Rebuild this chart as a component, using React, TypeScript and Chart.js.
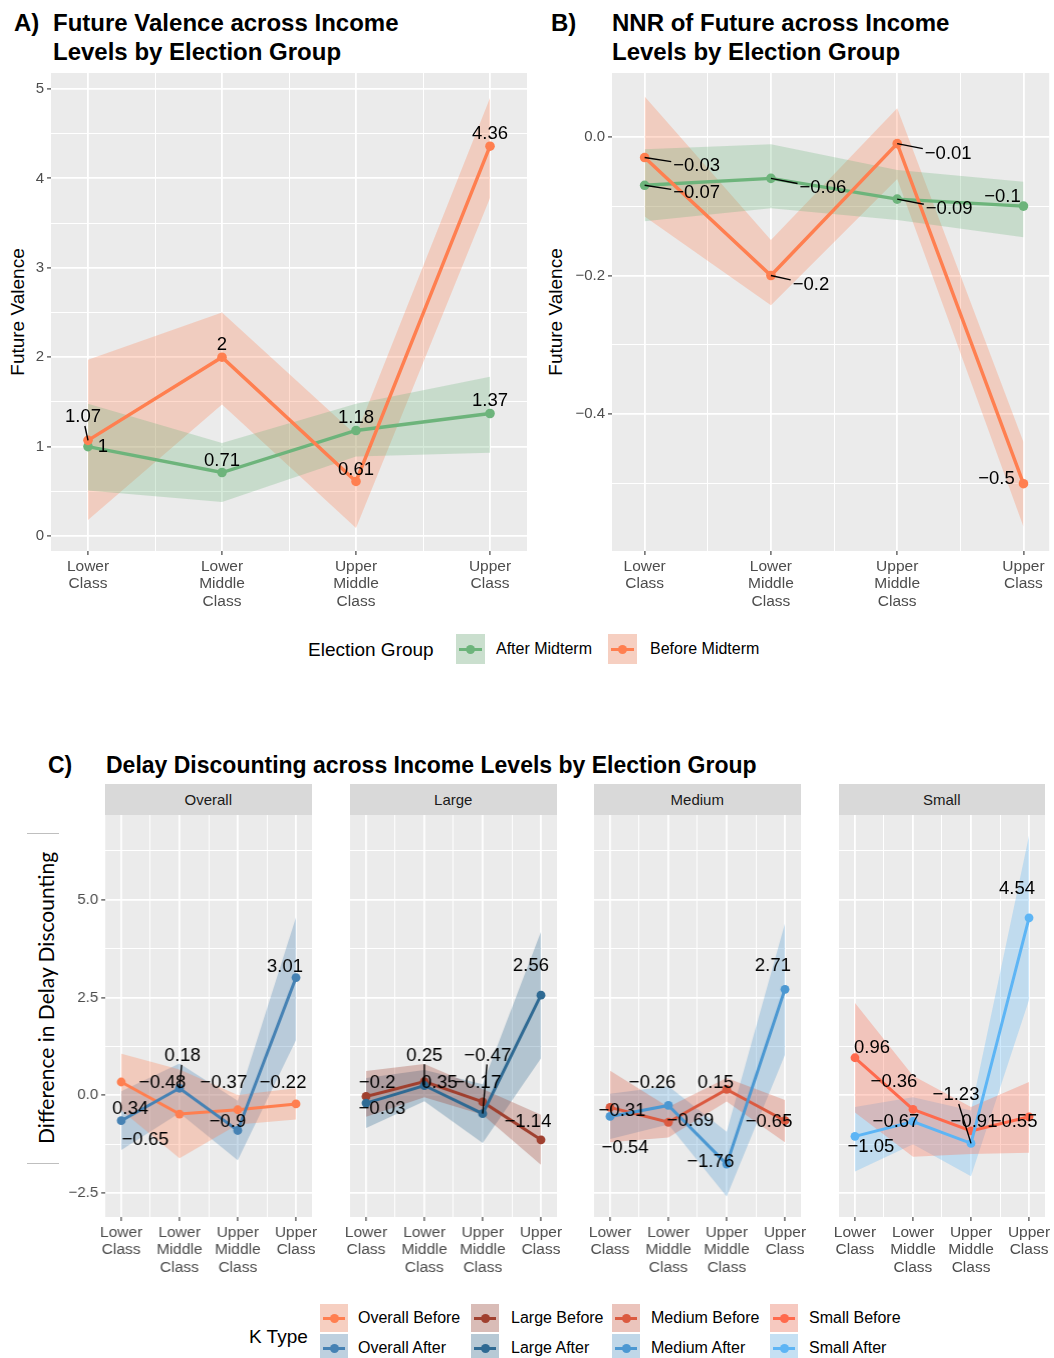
import React, { useEffect, useRef } from "react";
import { Chart, registerables } from "chart.js";

Chart.register(...registerables);

const FONT = '"Liberation Sans", Arial, Helvetica, sans-serif';

// ---------------- shared categories ----------------
const incomeLevels = ["Lower Class", "Lower Middle Class", "Upper Middle Class", "Upper Class"];
const electionGroups = ["After Midterm", "Before Midterm"];

// ---------------- Panel A: Future Valence ----------------
const aAfterMean = [1, 0.71, 1.18, 1.37];
const aAfterLow = [0.51, 0.38, 0.89, 0.93];
const aAfterHigh = [1.48, 1.04, 1.48, 1.78];
const aBeforeMean = [1.07, 2, 0.61, 4.36];
const aBeforeLow = [0.18, 1.47, 0.09, 3.78];
const aBeforeHigh = [1.97, 2.5, 1.13, 4.9];
const aYTicks = [0, 1, 2, 3, 4, 5];
const aYMinor = [0.5, 1.5, 2.5, 3.5, 4.5];

// ---------------- Panel B: NNR of Future ----------------
const bAfterMean = [-0.07, -0.06, -0.09, -0.1];
const bAfterLow = [-0.122, -0.103, -0.12, -0.145];
const bAfterHigh = [-0.018, -0.011, -0.048, -0.065];
const bBeforeMean = [-0.03, -0.2, -0.01, -0.5];
const bBeforeLow = [-0.115, -0.243, -0.061, -0.562];
const bBeforeHigh = [0.058, -0.149, 0.041, -0.44];
const bYTicks = [-0.4, -0.2, 0];
const bYMinor = [-0.5, -0.3, -0.1];

// ---------------- Panel C: Delay Discounting ----------------
const kFacets = ["Overall", "Large", "Medium", "Small"];
const cYTicks = [-2.5, 0, 2.5, 5];
const cYMinor = [-1.25, 1.25, 3.75, 6.25];

const overallBeforeMean = [0.34, -0.48, -0.37, -0.22];
const overallBeforeLow = [-0.38, -1.61, -0.75, -0.62];
const overallBeforeHigh = [1.06, 0.66, 0.01, 0.18];
const overallAfterMean = [-0.65, 0.18, -0.9, 3.01];
const overallAfterLow = [-1.4, -0.45, -1.66, 1.41];
const overallAfterHigh = [0.1, 0.81, -0.14, 4.55];

const largeBeforeMean = [-0.03, 0.35, -0.17, -1.14];
const largeBeforeLow = [-0.55, -0.05, -0.5, -1.78];
const largeBeforeHigh = [0.62, 0.8, 0.16, -0.5];
const largeAfterMean = [-0.2, 0.25, -0.47, 2.56];
const largeAfterLow = [-0.84, -0.15, -1.22, 0.94];
const largeAfterHigh = [0.44, 0.65, 0.28, 4.18];

const mediumBeforeMean = [-0.31, -0.69, 0.15, -0.65];
const mediumBeforeLow = [-1.2, -1.08, -0.16, -1.2];
const mediumBeforeHigh = [0.63, -0.3, 0.44, -0.12];
const mediumAfterMean = [-0.54, -0.26, -1.76, 2.71];
const mediumAfterLow = [-1.12, -0.75, -2.59, 1.03];
const mediumAfterHigh = [0.04, 0.23, -0.93, 4.39];

const smallBeforeMean = [0.96, -0.36, -0.91, -0.55];
const smallBeforeLow = [-0.44, -1.57, -1.5, -1.47];
const smallBeforeHigh = [2.36, 0.5, -0.3, 0.34];
const smallAfterMean = [-1.05, -0.67, -1.23, 4.54];
const smallAfterLow = [-1.95, -1.25, -2.07, 2.44];
const smallAfterHigh = [-0.3, -0.05, -0.39, 6.64];

// ---------------- label placement (text offset from point, px; leader flag) ----------------
const aAfterLabelAt = [[15, 0, 0], [0, -12, 0], [0, -13, 0], [0, -13, 0]];
const aBeforeLabelAt = [[-5, -23, 1], [0, -12, 0], [0, -12, 0], [0, -12, 0]];
const bAfterLabelAt = [[52, 8, 1], [52, 10, 1], [52, 10, 1], [-21, -9, 0]];
const bBeforeLabelAt = [[52, 8, 1], [40, 9, 1], [51, 10, 1], [-27, -5, 0]];
const overallBeforeLabelAt = [[9, 27, 0], [-17, -31, 0], [-14, -27, 0], [-13, -21, 0]];
const overallAfterLabelAt = [[24, 19, 0], [3, -32, 1], [-10, -9, 0], [-11, -11, 0]];
const largeBeforeLabelAt = [[16, 12, 0], [15, 1, 0], [-5, -19, 0], [-13, -18, 0]];
const largeAfterLabelAt = [[11, -20, 0], [0, -30, 1], [5, -58, 1], [-10, -29, 0]];
const mediumBeforeLabelAt = [[12, 3, 0], [22, -1, 0], [-11, -7, 0], [-16, 1, 0]];
const mediumAfterLabelAt = [[15, 32, 0], [-16, -23, 0], [-16, -2, 0], [-12, -23, 0]];
const smallBeforeLabelAt = [[17, -10, 0], [-19, -27, 0], [3, -9, 0], [-15, 5, 0]];
const smallAfterLabelAt = [[16, 11, 0], [-17, 0, 0], [-15, -48, 1], [-12, -29, 0]];

// ---------------- colours ----------------
const afterGreen = "#6DB47B";
const beforeCoral = "#FF7F50";
const kBeforeColors = ["#FF7F50", "#A0402F", "#DB5A40", "#FF6A4D"];
const kAfterColors = ["#4682B4", "#2F6A93", "#4C98D2", "#5DB5F5"];

function rgba(hex: string, a: number) {
  const n = parseInt(hex.slice(1), 16);
  return `rgba(${(n >> 16) & 255},${(n >> 8) & 255},${n & 255},${a})`;
}

const minus = (s: string) => s.replace("-", "\u2212");
const fmtVal = (v: number) => minus(String(v));
const LABEL_SIZE = 18.5;

type Series = { mean: number[]; low: number[]; high: number[]; color: string; pos: number[][] };

type PanelProps = {
  left: number; top: number; width: number; height: number;
  yW: number; xH: number; padTop: number; padLeft: number; padRight: number;
  xMin: number; xMax: number; yMin: number; yMax: number;
  yMajor: number[]; yMinor: number[]; yFmt: (v: number) => string; showY: boolean;
  series: Series[]; lw: number; pr: number; bandAlpha: number;
};

function LinePanel(p: PanelProps) {
  const ref = useRef<HTMLCanvasElement>(null);
  useEffect(() => {
    const canvas = ref.current!;
    const pts = (arr: number[]) => arr.map((v, i) => ({ x: i + 1, y: v }));
    const datasets: any[] = [];
    p.series.forEach((s) => {
      datasets.push({
        data: pts(s.high), borderWidth: 0, borderColor: "rgba(0,0,0,0)", pointRadius: 0,
        backgroundColor: rgba(s.color, p.bandAlpha), fill: "+1", order: 10, tension: 0,
      });
      datasets.push({
        data: pts(s.low), borderWidth: 0, borderColor: "rgba(0,0,0,0)", pointRadius: 0,
        fill: false, order: 10, tension: 0,
      });
    });
    p.series.forEach((s, k) => {
      datasets.push({
        data: pts(s.mean), borderColor: s.color, backgroundColor: s.color, borderWidth: p.lw,
        pointRadius: p.pr, pointHoverRadius: p.pr, pointBackgroundColor: s.color, pointBorderWidth: 0,
        fill: false, order: 5 - k, tension: 0, clip: false,
      });
    });
    const xTicks = [1, 1.5, 2, 2.5, 3, 3.5, 4];
    const yAll = [...p.yMajor, ...p.yMinor].sort((a, b) => a - b);
    const isYMajor = (v: number) => p.yMajor.some((m) => Math.abs(m - v) < 1e-9);

    const bgPlugin = {
      id: "panelBg",
      beforeDraw(chart: any) {
        const { ctx, chartArea } = chart;
        ctx.save();
        ctx.fillStyle = "#EBEBEB";
        ctx.fillRect(chartArea.left, chartArea.top, chartArea.right - chartArea.left, chartArea.bottom - chartArea.top);
        ctx.restore();
      },
    };
    const labelPlugin = {
      id: "valueLabels",
      afterDatasetsDraw(chart: any) {
        const ctx = chart.ctx;
        const xs = chart.scales.x;
        const ys = chart.scales.y;
        ctx.save();
        ctx.font = `${LABEL_SIZE}px ${FONT}`;
        ctx.textAlign = "center";
        ctx.textBaseline = "middle";
        p.series.forEach((s) => {
          s.mean.forEach((v, i) => {
            const [dx, dy, lead] = s.pos[i];
            const px = xs.getPixelForValue(i + 1);
            const py = ys.getPixelForValue(v);
            const tx = px + dx;
            const ty = py + dy;
            const text = fmtVal(v);
            if (lead) {
              const w = ctx.measureText(text).width;
              const hw = w / 2 + 2;
              const hh = LABEL_SIZE * 0.36 + 2;
              const ddx = tx - px;
              const ddy = ty - py;
              const sc = Math.max(Math.abs(ddx) / hw, Math.abs(ddy) / hh);
              if (sc > 1) {
                ctx.beginPath();
                ctx.moveTo(px, py);
                ctx.lineTo(tx - ddx / sc, ty - ddy / sc);
                ctx.strokeStyle = "#000";
                ctx.lineWidth = 1.4;
                ctx.stroke();
              }
            }
            ctx.fillStyle = "#000";
            ctx.fillText(text, tx, ty);
          });
        });
        ctx.restore();
      },
    };

    const chart = new Chart(canvas, {
      type: "line",
      data: { datasets },
      options: {
        responsive: false,
        maintainAspectRatio: false,
        animation: false,
        events: [],
        layout: { padding: { top: p.padTop, left: p.padLeft, right: p.padRight, bottom: 0 } },
        plugins: { legend: { display: false }, tooltip: { enabled: false } },
        scales: {
          x: {
            type: "linear",
            min: p.xMin,
            max: p.xMax,
            afterBuildTicks: (sc: any) => {
              sc.ticks = xTicks.map((v) => ({ value: v }));
            },
            afterFit: (sc: any) => {
              sc.height = p.xH;
            },
            ticks: {
              autoSkip: false,
              maxRotation: 0,
              minRotation: 0,
              padding: 3,
              color: "#4D4D4D",
              font: { family: FONT, size: 15.5, lineHeight: 1.12 },
              callback: (v: any) => (Number.isInteger(v) ? incomeLevels[v - 1].split(" ") : ""),
            },
            grid: {
              color: "#FFFFFF",
              lineWidth: (c: any) => (c.tick && Number.isInteger(c.tick.value) ? 1.8 : 1.0),
              tickLength: 4,
              tickWidth: 1.2,
              tickColor: (c: any) => (c.tick && Number.isInteger(c.tick.value) ? "#444444" : "rgba(0,0,0,0)"),
            },
            border: { display: false },
          },
          y: {
            type: "linear",
            min: p.yMin,
            max: p.yMax,
            afterBuildTicks: (sc: any) => {
              sc.ticks = yAll.map((v) => ({ value: v }));
            },
            afterFit: (sc: any) => {
              sc.width = p.yW;
            },
            ticks: {
              display: p.showY,
              autoSkip: false,
              padding: 3,
              color: "#4D4D4D",
              font: { family: FONT, size: 15 },
              callback: (v: any) => (isYMajor(v) ? p.yFmt(v) : ""),
            },
            grid: {
              color: "#FFFFFF",
              lineWidth: (c: any) => (c.tick && isYMajor(c.tick.value) ? 1.8 : 1.0),
              tickLength: p.showY ? 4 : 0,
              tickWidth: 1.2,
              tickColor: (c: any) => (p.showY && c.tick && isYMajor(c.tick.value) ? "#444444" : "rgba(0,0,0,0)"),
            },
            border: { display: false },
          },
        },
      } as any,
      plugins: [bgPlugin, labelPlugin],
    } as any);
    return () => chart.destroy();
  }, []);
  return (
    <canvas
      ref={ref}
      width={p.width}
      height={p.height}
      style={{ position: "absolute", left: p.left, top: p.top, width: p.width, height: p.height }}
    />
  );
}

function T(props: { x: number; y: number; size: number; bold?: boolean; center?: boolean; rot?: boolean; color?: string; family?: string; children: any }) {
  const { x, y, size, bold, center, rot, color, family, children } = props;
  let transform = center ? "translate(-50%,-50%)" : "translate(0,-50%)";
  if (rot) transform = "translate(-50%,-50%) rotate(-90deg)";
  return (
    <div
      style={{
        position: "absolute",
        left: x,
        top: y,
        transform,
        fontFamily: family || FONT,
        fontSize: size,
        fontWeight: bold ? 700 : 400,
        color: color || "#000",
        lineHeight: 1,
        whiteSpace: "nowrap",
      }}
    >
      {children}
    </div>
  );
}

function Key(props: { x: number; y: number; w: number; h: number; color: string }) {
  const { x, y, w, h, color } = props;
  return (
    <div style={{ position: "absolute", left: x, top: y, width: w, height: h, background: "#F2F2F2" }}>
      <div style={{ position: "absolute", left: 0, top: 0, width: w, height: h, background: rgba(color, 0.3) }} />
      <div style={{ position: "absolute", left: 3, width: w - 6, top: h / 2 - 1.5, height: 3, background: color }} />
      <div style={{ position: "absolute", left: w / 2 - 4.5, top: h / 2 - 4.5, width: 9, height: 9, borderRadius: "50%", background: color }} />
    </div>
  );
}

const fmtInt = (v: number) => minus(String(v));
const fmt1 = (v: number) => minus(v.toFixed(1));

export default function App() {
  const seriesA: Series[] = [
    { mean: aAfterMean, low: aAfterLow, high: aAfterHigh, color: afterGreen, pos: aAfterLabelAt },
    { mean: aBeforeMean, low: aBeforeLow, high: aBeforeHigh, color: beforeCoral, pos: aBeforeLabelAt },
  ];
  const seriesB: Series[] = [
    { mean: bAfterMean, low: bAfterLow, high: bAfterHigh, color: afterGreen, pos: bAfterLabelAt },
    { mean: bBeforeMean, low: bBeforeLow, high: bBeforeHigh, color: beforeCoral, pos: bBeforeLabelAt },
  ];
  const facetSeries: Series[][] = [
    [
      { mean: overallBeforeMean, low: overallBeforeLow, high: overallBeforeHigh, color: kBeforeColors[0], pos: overallBeforeLabelAt },
      { mean: overallAfterMean, low: overallAfterLow, high: overallAfterHigh, color: kAfterColors[0], pos: overallAfterLabelAt },
    ],
    [
      { mean: largeBeforeMean, low: largeBeforeLow, high: largeBeforeHigh, color: kBeforeColors[1], pos: largeBeforeLabelAt },
      { mean: largeAfterMean, low: largeAfterLow, high: largeAfterHigh, color: kAfterColors[1], pos: largeAfterLabelAt },
    ],
    [
      { mean: mediumBeforeMean, low: mediumBeforeLow, high: mediumBeforeHigh, color: kBeforeColors[2], pos: mediumBeforeLabelAt },
      { mean: mediumAfterMean, low: mediumAfterLow, high: mediumAfterHigh, color: kAfterColors[2], pos: mediumAfterLabelAt },
    ],
    [
      { mean: smallBeforeMean, low: smallBeforeLow, high: smallBeforeHigh, color: kBeforeColors[3], pos: smallBeforeLabelAt },
      { mean: smallAfterMean, low: smallAfterLow, high: smallAfterHigh, color: kAfterColors[3], pos: smallAfterLabelAt },
    ],
  ];

  const facetLeft = [105, 350, 594, 838.5];
  const facetW = 206.5;
  const cTop = 815;
  const cBottom = 1217;
  const cPadX = 16 / ((facetW - 32) / 3);

  return (
    <div style={{ position: "absolute", left: 0, top: 0, width: 1054, height: 1358, background: "#FFFFFF", overflow: "hidden" }}>
      {/* ---------- titles A / B ---------- */}
      <T x={14} y={23} size={24} bold>A)</T>
      <T x={53} y={23} size={24} bold>Future Valence across Income</T>
      <T x={53} y={52} size={24} bold>Levels by Election Group</T>
      <T x={551} y={23} size={24} bold>B)</T>
      <T x={612} y={23} size={24} bold>NNR of Future across Income</T>
      <T x={612} y={52} size={24} bold>Levels by Election Group</T>

      <T x={17} y={312} size={19} rot>Future Valence</T>
      <T x={555} y={312} size={19} rot>Future Valence</T>

      <LinePanel
        left={0} top={53} width={535} height={568}
        yW={51} xH={70} padTop={20} padLeft={0} padRight={8}
        xMin={1 - 37 / 134} xMax={4 + 37 / 134} yMin={-0.168} yMax={5.179}
        yMajor={aYTicks} yMinor={aYMinor} yFmt={fmtInt} showY
        series={seriesA} lw={3.4} pr={4.8} bandAlpha={0.28}
      />
      <LinePanel
        left={542} top={53} width={512} height={568}
        yW={70} xH={70} padTop={20} padLeft={0} padRight={0}
        xMin={1 - 33 / 127.67} xMax={4 + 26 / 127.67} yMin={-0.597} yMax={0.0918}
        yMajor={bYTicks} yMinor={bYMinor} yFmt={fmt1} showY
        series={seriesB} lw={3.4} pr={4.8} bandAlpha={0.28}
      />

      {/* ---------- legend for A / B ---------- */}
      <T x={308} y={649} size={19}>Election Group</T>
      <Key x={456} y={634} w={29} h={30} color={afterGreen} />
      <T x={496} y={649} size={16}>{electionGroups[0]}</T>
      <Key x={608} y={634} w={29} h={30} color={beforeCoral} />
      <T x={650} y={649} size={16}>{electionGroups[1]}</T>

      {/* ---------- panel C ---------- */}
      <T x={48} y={765} size={23} bold>C)</T>
      <T x={106} y={765} size={23} bold>Delay Discounting across Income Levels by Election Group</T>

      <div style={{ position: "absolute", left: 27, top: 833, width: 32, height: 1, background: "#BFBFBF" }} />
      <div style={{ position: "absolute", left: 27, top: 1163, width: 32, height: 1, background: "#BFBFBF" }} />
      <T x={45} y={998} size={21} rot family={'Lato, "Open Sans", sans-serif'}>Difference in Delay Discounting</T>

      {kFacets.map((f, i) => (
        <div
          key={"strip" + f}
          style={{
            position: "absolute", left: facetLeft[i], top: 784, width: facetW, height: 31,
            background: "#D9D9D9", color: "#1A1A1A", fontFamily: FONT, fontSize: 15,
            display: "flex", alignItems: "center", justifyContent: "center",
          }}
        >
          {f}
        </div>
      ))}

      {kFacets.map((f, i) => {
        const first = i === 0;
        const yW = first ? 60 : 0;
        const padLeft = first ? 0 : 12;
        const left = facetLeft[i] - yW - padLeft;
        return (
          <LinePanel
            key={"facet" + f}
            left={left} top={cTop - 20} width={yW + padLeft + facetW + 12} height={20 + (cBottom - cTop) + 60}
            yW={yW} xH={60} padTop={20} padLeft={padLeft} padRight={12}
            xMin={1 - cPadX} xMax={4 + cPadX} yMin={-3.113} yMax={7.169}
            yMajor={cYTicks} yMinor={cYMinor} yFmt={fmt1} showY={first}
            series={facetSeries[i]} lw={3} pr={4.4} bandAlpha={0.3}
          />
        );
      })}

      {/* ---------- legend for C ---------- */}
      <T x={249} y={1336} size={19}>K Type</T>
      {kFacets.map((f, i) => {
        const boxX = [320, 471, 612, 770][i];
        const textX = [358, 511, 651, 809][i];
        return (
          <React.Fragment key={"leg" + f}>
            <Key x={boxX} y={1304} w={28} h={28} color={kBeforeColors[i]} />
            <T x={textX} y={1318} size={16}>{f + " Before"}</T>
            <Key x={boxX} y={1334} w={28} h={28} color={kAfterColors[i]} />
            <T x={textX} y={1348} size={16}>{f + " After"}</T>
          </React.Fragment>
        );
      })}
    </div>
  );
}
